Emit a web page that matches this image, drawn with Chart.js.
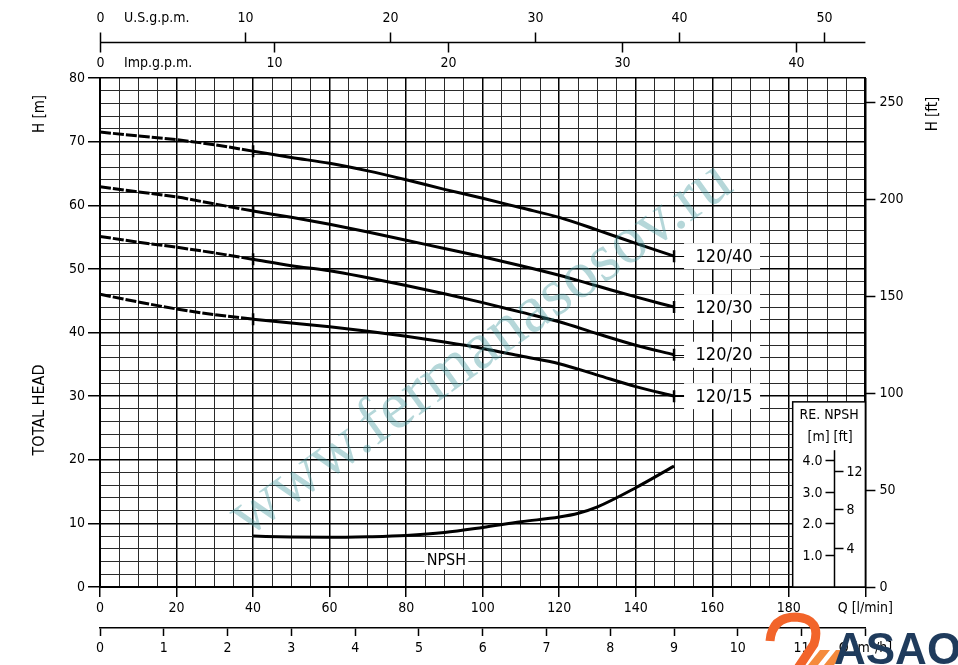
<!DOCTYPE html>
<html><head><meta charset="utf-8">
<script src="https://cdn.jsdelivr.net/npm/chart.js@4.4.1/dist/chart.umd.min.js"></script>
<style>html,body{margin:0;padding:0;background:#fff;overflow:hidden}canvas{display:block}</style>
</head><body>
<canvas id="c" width="958" height="665"></canvas>
<script>
// ---- data (Q in l/min, H in m) ----
const flowLpm    = [0,10,20,30,40,50,60,70,80,90,100,110,120,130,140,150];
const head120_40 = [71.5,70.9,70.3,69.5,68.5,67.5,66.6,65.4,64.0,62.5,61.1,59.6,58.1,56.1,54.0,52.0];
const head120_30 = [62.9,62.1,61.3,60.2,59.1,58.1,57.0,55.8,54.5,53.2,51.9,50.5,49.0,47.3,45.6,44.0];
const head120_20 = [55.1,54.2,53.4,52.5,51.5,50.5,49.7,48.6,47.4,46.1,44.7,43.2,41.7,39.8,38.0,36.5];
const head120_15 = [46.0,44.8,43.7,42.8,42.1,41.5,40.9,40.2,39.4,38.5,37.5,36.3,35.1,33.3,31.5,30.0];
const modelLabels = ['120/40','120/30','120/20','120/15'];
const npshFlow = [40,50,60,70,80,90,100,110,120,125,130,140,150];
const npshM    = [1.60,1.57,1.56,1.58,1.62,1.71,1.87,2.05,2.20,2.32,2.52,3.12,3.80];
const usGpmTicks  = [0,10,20,30,40,50];
const impGpmTicks = [0,10,20,30,40];
const npshTicksM  = [1,2,3,4];
const npshTicksFt = [4,8,12];
const LPM_PER_USGPM = 3.78541, LPM_PER_IMPGPM = 4.54609, M_PER_FT = 0.3048;

const FONT = "'DejaVu Sans Condensed','Liberation Sans Narrow','DejaVu Sans',sans-serif";
Chart.defaults.font.family = FONT;
Chart.defaults.font.size = 14;
Chart.defaults.color = '#000';

const pumpSeries = [head120_40, head120_30, head120_20, head120_15];
const datasets = pumpSeries.map((arr, i) => ({
  label: modelLabels[i],
  data: flowLpm.map((q, j) => ({x: q, y: arr[j]})),
  xAxisID: 'x', yAxisID: 'y',
  borderColor: '#000', borderWidth: 3,
  cubicInterpolationMode: 'monotone',
  segment: { borderDash: c => (c.p1.parsed.x <= 40 ? [11, 2] : undefined) },
  pointStyle: 'line', pointRotation: 90,
  pointRadius: c => { const q = c.parsed && c.parsed.x; return (q === 40 || q === 150) ? 6 : 0; },
  pointHoverRadius: 0,
  pointBorderWidth: 2.5, pointBorderColor: '#000', pointBackgroundColor: '#000'
}));
datasets.push({
  label: 'NPSH',
  data: npshFlow.map((q, j) => ({x: q, y: npshM[j]})),
  xAxisID: 'x', yAxisID: 'yN',
  borderColor: '#000', borderWidth: 3, cubicInterpolationMode: 'monotone',
  pointRadius: 0, pointHoverRadius: 0
});

const decor = {
  id: 'decor',
  afterDatasetsDraw(chart) {
    const ctx = chart.ctx, xs = chart.scales.x, ys = chart.scales.y, yN = chart.scales.yN;
    ctx.save();
    // curve labels
    for (let i = 0; i < modelLabels.length; i++) {
      const meta = chart.getDatasetMeta(i);
      const pt = meta.data[meta.data.length - 1];
      const px = pt.x, py = pt.y;
      ctx.fillStyle = '#fff';
      ctx.fillRect(px + 10, py - 13, 76, 26);
      ctx.strokeStyle = '#000'; ctx.lineWidth = 1;
      ctx.beginPath(); ctx.moveTo(px, Math.round(py) + 0.5); ctx.lineTo(px + 10, Math.round(py) + 0.5); ctx.stroke();
      ctx.fillStyle = '#000';
      ctx.font = '18px ' + FONT;
      ctx.textAlign = 'center'; ctx.textBaseline = 'middle';
      ctx.fillText(modelLabels[i], px + 50, py + 1);
    }
    // NPSH label
    const nx = xs.getPixelForValue(90.5), ny = ys.getPixelForValue(4.3);
    ctx.fillStyle = '#fff'; ctx.fillRect(nx - 22, ny - 10, 44, 20);
    ctx.fillStyle = '#000'; ctx.font = '16px ' + FONT;
    ctx.textAlign = 'center'; ctx.textBaseline = 'middle';
    ctx.fillText('NPSH', nx, ny + 1);
    // NPSH box
    const bx0 = xs.getPixelForValue(181), bx1 = xs.getPixelForValue(200);
    const by0 = ys.getPixelForValue(29.1), by1 = ys.getPixelForValue(0);
    ctx.fillStyle = '#fff'; ctx.fillRect(bx0, by0, bx1 - bx0, by1 - by0);
    ctx.strokeStyle = '#000'; ctx.lineWidth = 1.5;
    ctx.strokeRect(bx0, by0, bx1 - bx0, by1 - by0);
    ctx.fillStyle = '#000'; ctx.font = '14px ' + FONT;
    ctx.textAlign = 'center'; ctx.textBaseline = 'middle';
    ctx.fillText('RE. NPSH', (bx0 + bx1) / 2, by0 + 14);
    ctx.fillText('[m] [ft]', (bx0 + bx1) / 2 + 1, by0 + 36);
    const ax = Math.round(xs.getPixelForValue(191.8)) + 0.5;
    ctx.lineWidth = 1.5;
    ctx.beginPath(); ctx.moveTo(ax, yN.getPixelForValue(4.3)); ctx.lineTo(ax, by1); ctx.stroke();
    ctx.font = '14px ' + FONT;
    for (const v of npshTicksM) {
      const py = Math.round(yN.getPixelForValue(v)) + 0.5;
      ctx.beginPath(); ctx.moveTo(ax - 9, py); ctx.lineTo(ax, py); ctx.stroke();
      ctx.textAlign = 'right'; ctx.fillText(v.toFixed(1), ax - 12, py + 1);
    }
    for (const v of npshTicksFt) {
      const py = Math.round(yN.getPixelForValue(v * M_PER_FT)) + 0.5;
      ctx.beginPath(); ctx.moveTo(ax, py); ctx.lineTo(ax + 9, py); ctx.stroke();
      ctx.textAlign = 'left'; ctx.fillText(String(v), ax + 12, py + 1);
    }
    ctx.restore();
  },
  afterDraw(chart) {
    const ctx = chart.ctx, xs = chart.scales.x, area = chart.chartArea;
    ctx.save();
    // top flow axes
    const ly = 42.5;
    ctx.strokeStyle = '#000'; ctx.lineWidth = 1.5;
    ctx.beginPath(); ctx.moveTo(area.left, ly); ctx.lineTo(area.right, ly); ctx.stroke();
    ctx.fillStyle = '#000'; ctx.font = '14px ' + FONT; ctx.textBaseline = 'middle';
    for (const v of usGpmTicks) {
      const px = Math.round(xs.getPixelForValue(v * LPM_PER_USGPM)) + 0.5;
      ctx.beginPath(); ctx.moveTo(px, ly); ctx.lineTo(px, ly - 10); ctx.stroke();
      ctx.textAlign = 'center'; ctx.fillText(String(v), px, 18);
    }
    for (const v of impGpmTicks) {
      const px = Math.round(xs.getPixelForValue(v * LPM_PER_IMPGPM)) + 0.5;
      ctx.beginPath(); ctx.moveTo(px, ly); ctx.lineTo(px, ly + 10); ctx.stroke();
      ctx.textAlign = 'center'; ctx.fillText(String(v), px, 63);
    }
    ctx.textAlign = 'left';
    ctx.fillText('U.S.g.p.m.', 124, 18);
    ctx.fillText('Imp.g.p.m.', 124, 63);
    // rotated titles
    const rot = (t, x, y, size) => {
      ctx.save(); ctx.translate(x, y); ctx.rotate(-Math.PI / 2);
      ctx.font = size + 'px ' + FONT; ctx.textAlign = 'center'; ctx.textBaseline = 'middle';
      ctx.fillText(t, 0, 0); ctx.restore();
    };
    rot('H [m]', 40, 114, 15);
    rot('TOTAL HEAD', 40, 410, 16);
    rot('H [ft]', 933, 114, 15);
    // watermark
    const wm = 'www.fermanasosov.ru';
    ctx.save();
    ctx.font = "100px 'Liberation Serif','DejaVu Serif',serif";
    const w100 = ctx.measureText(wm).width;
    const fs = 100 * 600 / w100;
    ctx.translate(247, 538); ctx.rotate(-35.5 * Math.PI / 180);
    ctx.font = fs + "px 'Liberation Serif','DejaVu Serif',serif";
    ctx.textAlign = 'left'; ctx.textBaseline = 'alphabetic';
    ctx.fillStyle = 'rgba(60,150,155,0.38)';
    ctx.fillText(wm, 0, 0);
    ctx.restore();
    // logo
    ctx.save();
    ctx.strokeStyle = '#f2642a'; ctx.lineWidth = 9; ctx.lineCap = 'butt';
    ctx.beginPath();
    ctx.moveTo(770, 641); ctx.quadraticCurveTo(772, 617, 796, 617);
    ctx.quadraticCurveTo(822, 619, 814, 644); ctx.lineTo(798, 668);
    ctx.stroke();
    ctx.fillStyle = '#f58a3c';
    ctx.beginPath(); ctx.moveTo(808, 665); ctx.lineTo(820, 650); ctx.lineTo(830, 650); ctx.lineTo(818, 665); ctx.closePath(); ctx.fill();
    ctx.beginPath(); ctx.moveTo(824, 665); ctx.lineTo(836, 650); ctx.lineTo(846, 650); ctx.lineTo(834, 665); ctx.closePath(); ctx.fill();
    ctx.fillStyle = '#1f3b5c';
    ctx.font = "bold 44px 'Liberation Sans',Arial,sans-serif";
    ctx.textAlign = 'left'; ctx.textBaseline = 'alphabetic';
    ctx.fillText('ASAO', 834, 664);
    ctx.restore();
    ctx.restore();
  }
};

const majorX = v => v % 20 === 0;
const majorY = v => v % 10 === 0;

new Chart(document.getElementById('c'), {
  type: 'line',
  data: { datasets },
  plugins: [decor],
  options: {
    responsive: false, animation: false,
    layout: { padding: { top: 78, left: 0, right: 0, bottom: 0 } },
    plugins: { legend: { display: false }, tooltip: { enabled: false } },
    scales: {
      x: {
        type: 'linear', position: 'bottom', min: 0, max: 200, weight: 0,
        ticks: { stepSize: 5, autoSkip: false, maxRotation: 0, minRotation: 0, maxTicksLimit: 200, padding: 3,
          callback: v => v === 200 ? 'Q [l/min]' : (majorX(v) ? String(v) : '') },
        grid: { color: c => majorX(c.tick.value) ? '#000' : '#2a2a2a', lineWidth: c => majorX(c.tick.value) ? 1.5 : 1,
          tickLength: 10, tickColor: c => majorX(c.tick.value) ? '#000' : 'rgba(0,0,0,0)', tickWidth: 1.5 },
        border: { display: true, color: '#000', width: 2 },
        afterFit: s => { s.height = 41; }
      },
      xm3: {
        type: 'linear', position: 'bottom', min: 0, max: 12, weight: 1,
        ticks: { stepSize: 1, autoSkip: false, maxRotation: 0, minRotation: 0, padding: 4,
          callback: v => v === 12 ? 'Q [m³/h]' : String(v) },
        grid: { drawOnChartArea: false, tickLength: 8, tickColor: '#000', tickWidth: 1.5 },
        border: { display: true, color: '#000', width: 1.5 },
        afterFit: s => { s.height = 37; }
      },
      y: {
        type: 'linear', position: 'left', min: 0, max: 80,
        ticks: { stepSize: 2, autoSkip: false, maxTicksLimit: 200, padding: 3,
          callback: v => majorY(v) ? String(v) : '' },
        grid: { color: c => majorY(c.tick.value) ? '#000' : '#2a2a2a', lineWidth: c => majorY(c.tick.value) ? 1.5 : 1,
          tickLength: 12, tickColor: c => majorY(c.tick.value) ? '#000' : 'rgba(0,0,0,0)', tickWidth: 1.5 },
        border: { display: true, color: '#000', width: 2 },
        afterFit: s => { s.width = 100; }
      },
      y2: {
        type: 'linear', position: 'right', min: 0, max: 80 / M_PER_FT,
        ticks: { stepSize: 50, includeBounds: false, autoSkip: false, padding: 4, callback: v => String(v) },
        grid: { drawOnChartArea: false, tickLength: 10, tickColor: '#000', tickWidth: 1.5 },
        border: { display: true, color: '#000', width: 2 },
        afterFit: s => { s.width = 92.6; }
      },
      yN: { type: 'linear', position: 'right', display: false, min: 0, max: 16 }
    }
  }
});
</script>
</body></html>
